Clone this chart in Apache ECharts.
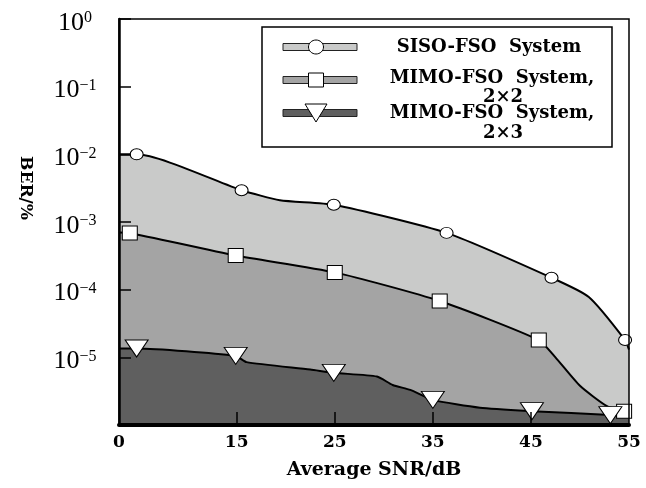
<!DOCTYPE html>
<html>
<head>
<meta charset="utf-8">
<script src="https://cdn.jsdelivr.net/npm/echarts@6/dist/echarts.min.js"></script>
<style>
html,body{margin:0;padding:0;background:#fff}
#chart{width:646px;height:488px}
</style>
</head>
<body>
<div id="chart"></div>
<script>
// the left edge of the x axis sits near SNR 3 but the figure labels it 0
var xMin = 3, xMax = 55;
var xTicks = [15, 25, 35, 45];
var xLabels = [3, 15, 25, 35, 45, 55];

var sisoSnr    = [3, 4.8, 15.5, 19.4, 24.9, 36.4, 47.1, 50.9, 54.6, 55];
var sisoBer    = [1.0e-2, 1.0e-2, 2.95e-3, 2.1e-3, 1.8e-3, 6.9e-4, 1.5e-4, 7.8e-5, 1.8e-5, 1.3e-5];
var sisoMarked = [0, 1, 1, 0, 1, 1, 1, 0, 1, 0];

var mimo22Snr    = [3, 4.1, 14.9, 25.0, 35.7, 45.8, 47.5, 50.0, 52.75, 54.5, 55];
var mimo22Ber    = [7.0e-4, 6.9e-4, 3.2e-4, 1.8e-4, 6.8e-5, 1.8e-5, 1.0e-5, 3.8e-6, 1.9e-6, 1.6e-6, 1.5e-6];
var mimo22Marked = [0, 1, 1, 1, 1, 1, 0, 0, 0, 1, 0];

var mimo23Snr    = [3, 4.8, 14.9, 16.0, 22.5, 24.9, 29.3, 30.9, 32.7, 35.0, 39.8, 45.1, 53.1, 55];
var mimo23Ber    = [1.35e-5, 1.35e-5, 1.05e-5, 8.5e-6, 6.6e-6, 5.9e-6, 5.2e-6, 3.9e-6, 3.3e-6, 2.35e-6, 1.8e-6, 1.6e-6, 1.4e-6, 1.3e-6];
var mimo23Marked = [0, 1, 1, 0, 0, 1, 0, 0, 0, 1, 0, 1, 1, 0];

var names = ['SISO-FSO  System', 'MIMO-FSO  System,\n2×2', 'MIMO-FSO  System,\n2×3'];
var fills = ['#c9cac9', '#a4a4a4', '#5f5f5f'];

function curve(snr, ber){
    return snr.map(function(s, i){ return [s, ber[i]]; });
}
function markers(snr, ber, marked){
    var out = [];
    for(var i in snr){
        if(marked[i]) out.push([snr[i], ber[i]]);
    }
    return out;
}

var serif = 'DejaVu Serif';
var sets = [
    {snr: sisoSnr, ber: sisoBer, marked: sisoMarked, symbol: 'circle', size: [13, 11], rotate: 0},
    {snr: mimo22Snr, ber: mimo22Ber, marked: mimo22Marked, symbol: 'rect', size: [15, 14], rotate: 0},
    {snr: mimo23Snr, ber: mimo23Ber, marked: mimo23Marked, symbol: 'triangle', size: [23, 17], rotate: 180}
];

var series = [];
sets.forEach(function(s, k){
    series.push({
        type: 'line',
        name: names[k],
        data: curve(s.snr, s.ber),
        symbol: 'none',
        smooth: 0.2,
        lineStyle: {color: '#000', width: 2},
        areaStyle: {color: fills[k], opacity: 1, origin: 'start'},
        z: 2 + k
    });
});
sets.forEach(function(s, k){
    series.push({
        type: 'scatter',
        data: markers(s.snr, s.ber, s.marked),
        symbol: s.symbol,
        symbolSize: s.size,
        symbolRotate: s.rotate,
        itemStyle: {color: '#fff', borderColor: '#000', borderWidth: 1, opacity: 1},
        clip: false,
        z: 10
    });
});

function supLabel(v){
    var e = Math.round(Math.log10(v));
    if(e < -5) return '';
    var t = e < 0 ? '\u2212' + (-e) : String(e);
    return '{b|10}{s|' + t + '}';
}

// legend drawn by hand: bar with marker, two-line labels
var legendRows = [47, 80, 113];
var legendEls = [{
    type: 'rect', shape: {x: 262, y: 27, width: 350, height: 120},
    style: {fill: '#fff', stroke: '#000', lineWidth: 1.5}
}];
legendRows.forEach(function(cy, k){
    legendEls.push({
        type: 'rect', shape: {x: 283, y: cy - 3.5, width: 74, height: 7},
        style: {fill: fills[k], stroke: '#222', lineWidth: 1}
    });
});
legendEls.push({type: 'ellipse', shape: {cx: 316, cy: 47, rx: 7.5, ry: 7}, style: {fill: '#fff', stroke: '#000', lineWidth: 1}});
legendEls.push({type: 'rect', shape: {x: 308.5, y: 73, width: 15, height: 14}, style: {fill: '#fff', stroke: '#000', lineWidth: 1}});
legendEls.push({type: 'polygon', shape: {points: [[305, 104], [327, 104], [316, 122]]}, style: {fill: '#fff', stroke: '#000', lineWidth: 1}});
var legendText = [
    ['SISO-FSO  System', 489, 47],
    ['MIMO-FSO  System,', 492, 78],
    ['2×2', 503, 97],
    ['MIMO-FSO  System,', 492, 113],
    ['2×3', 503, 133]
];
legendText.forEach(function(t){
    legendEls.push({
        type: 'text', x: t[1], y: t[2],
        style: {text: t[0], fill: '#000', font: 'bold 18px "DejaVu Serif"', align: 'center', verticalAlign: 'middle'}
    });
});

var chartDom = document.getElementById('chart');
var myChart = echarts.init(chartDom);
var option;

option = {
    backgroundColor: '#fff',
    animation: false,
    grid: {left: 119, right: 17, top: 19, bottom: 63, show: true, borderColor: '#000', borderWidth: 1.5, z: 20},
    xAxis: {
        type: 'value',
        min: xMin,
        max: xMax,
        z: 20,
        axisLine: {lineStyle: {color: '#000', width: 4}},
        axisTick: {customValues: xTicks, inside: true, length: 13, lineStyle: {color: '#000', width: 1.5}},
        axisLabel: {
            customValues: xLabels,
            formatter: function(v){ return v === xMin ? '0' : String(v); },
            fontFamily: serif, fontWeight: 'bold', fontSize: 17, color: '#000', margin: 9
        },
        splitLine: {show: false},
        name: 'Average SNR/dB',
        nameLocation: 'middle',
        nameGap: 36,
        nameTextStyle: {fontFamily: serif, fontWeight: 'bold', fontSize: 19, color: '#000'}
    },
    yAxis: {
        type: 'log',
        logBase: 10,
        min: 1e-6,
        max: 1,
        splitNumber: 6,
        z: 20,
        axisLine: {lineStyle: {color: '#000', width: 2.5}},
        axisTick: {inside: true, length: 12, lineStyle: {color: '#000', width: 1.5}},
        axisLabel: {
            formatter: supLabel,
            align: 'center',
            margin: 44,
            rich: {
                b: {fontFamily: 'Liberation Serif', fontSize: 26, color: '#000', verticalAlign: 'top', padding: [8, 0, 0, 0]},
                s: {fontFamily: 'Liberation Serif', fontSize: 16, color: '#000', verticalAlign: 'top', padding: [8, 0, 0, 0]}
            }
        },
        splitLine: {show: false}
    },
    graphic: [
        {type: 'group', z: 30, children: legendEls},
        {
            type: 'text', x: 25, y: 188, rotation: -Math.PI / 2, z: 30,
            style: {text: 'BER/%', fill: '#000', font: 'bold 17px "DejaVu Serif"', align: 'center', verticalAlign: 'middle'}
        }
    ],
    series: series
};

option && myChart.setOption(option);
</script>
</body>
</html>
